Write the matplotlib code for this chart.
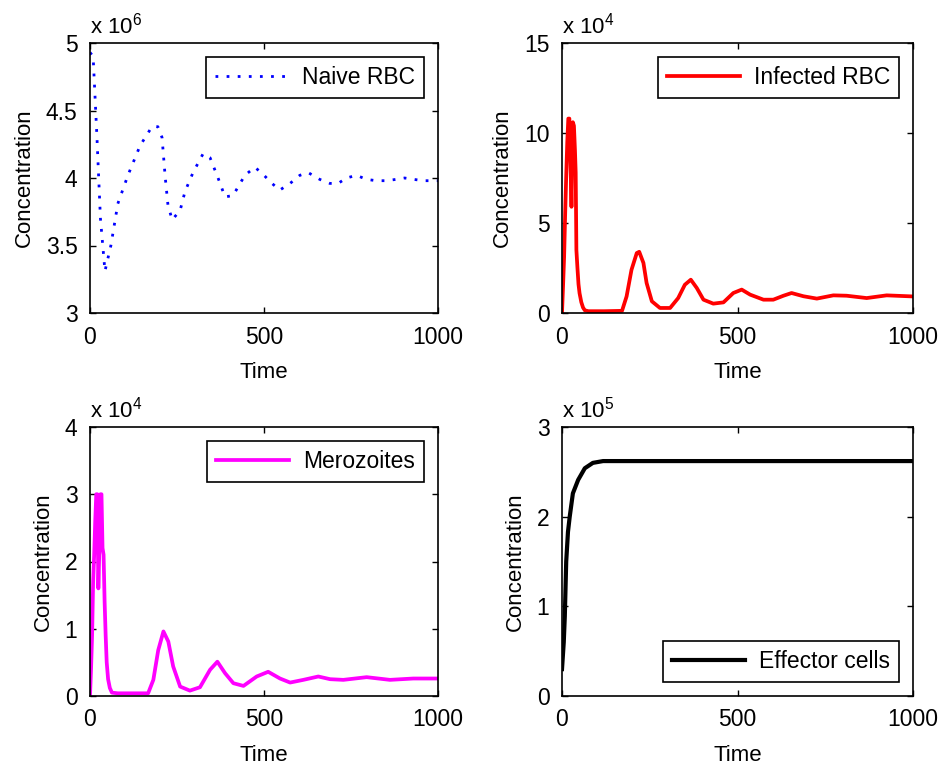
import numpy as np
import matplotlib.pyplot as plt

plt.rcParams["font.family"] = ["Liberation Sans", "DejaVu Sans"]
plt.rcParams["mathtext.default"] = "regular"
plt.rcParams["font.size"] = 16

# Naive RBC (x 10^6)
t_naive = [0, 9, 20, 30, 43, 60, 80, 109, 144, 178, 195, 207, 216, 224, 236, 259, 273,
           296, 325, 345, 368, 388, 411, 445, 474, 500, 523, 545, 575, 603, 627, 660,
           689, 713, 737, 766, 794, 823, 852, 880, 904, 930, 957, 990, 1000]
naive = [4.93, 4.9, 4.3, 3.7, 3.31, 3.5, 3.81, 4.02, 4.24, 4.38, 4.38, 4.30, 4.01, 3.80,
         3.69, 3.76, 3.90, 4.04, 4.18, 4.15, 4.00, 3.86, 3.87, 4.02, 4.08, 4.02, 3.96,
         3.91, 3.96, 4.02, 4.04, 3.99, 3.96, 3.96, 4.00, 4.02, 3.99, 3.98, 3.98, 3.99,
         4.00, 3.99, 3.98, 3.98, 3.98]

# Infected RBC (x 10^4)
t_infected = [0, 3, 6, 9, 12, 15, 18, 21, 24, 27, 29, 31, 34, 37, 39, 41, 44, 47, 50, 55,
              60, 65, 75, 120, 171, 184, 198, 213, 220, 232, 241, 256, 279, 308, 331, 350,
              367, 384, 403, 431, 460, 488, 512, 536, 574, 602, 631, 654, 688, 726, 773,
              811, 868, 925, 1000]
infected = [0, 1.5, 3.1, 5.5, 7.6, 9.5, 10.8, 10.8, 8.5, 5.9, 8.5, 10.6, 10.4, 9.0, 7.8,
            3.5, 2.5, 1.6, 1.1, 0.6, 0.3, 0.15, 0.1, 0.1, 0.12, 0.92, 2.4, 3.33, 3.4, 2.78,
            1.67, 0.65, 0.28, 0.28, 0.83, 1.57, 1.85, 1.39, 0.74, 0.52, 0.59, 1.11, 1.3,
            1.02, 0.74, 0.74, 0.96, 1.11, 0.93, 0.8, 0.98, 0.96, 0.83, 0.98, 0.92]

# Merozoites (x 10^4)
t_mero = [0, 3, 6, 9, 12, 15, 18, 21, 24, 27, 30, 33, 36, 39, 42, 45, 48, 52, 57, 63, 80,
          120, 167, 182, 196, 211, 225, 239, 259, 287, 316, 345, 366, 388, 412, 441, 479,
          512, 546, 575, 613, 656, 690, 728, 795, 862, 929, 1000]
mero = [0, 0.4, 0.9, 1.7, 2.1, 2.6, 3.0, 3.0, 1.6, 2.2, 3.0, 3.0, 2.2, 2.1, 1.4, 0.9, 0.5,
        0.25, 0.12, 0.05, 0.04, 0.04, 0.04, 0.24, 0.68, 0.96, 0.81, 0.44, 0.14, 0.08, 0.13,
        0.39, 0.51, 0.34, 0.19, 0.15, 0.29, 0.36, 0.26, 0.2, 0.24, 0.29, 0.25, 0.24, 0.28,
        0.24, 0.26, 0.26]

# Effector cells (x 10^5)
t_effector = [0, 5, 8, 12, 17, 22, 31, 46, 65, 88, 117, 200, 500, 1000]
effector = [0.3, 0.6, 0.89, 1.5, 1.83, 2.0, 2.26, 2.41, 2.54, 2.6, 2.62, 2.62, 2.62, 2.62]

panels = [
    # rect (px), t, y, style, colour, width, label, ylim, yticks, exponent, legend loc
    ([90, 313, 348, 270], t_naive, naive, (0, (1, 3)), "#0000ff", 2.0, "Naive RBC",
     (3, 5), [3, 3.5, 4, 4.5, 5], 6, "upper right"),
    ([562, 313, 351, 270], t_infected, infected, "-", "#ff0000", 2.7, "Infected RBC",
     (0, 15), [0, 5, 10, 15], 4, "upper right"),
    ([90, 696, 348, 269], t_mero, mero, "-", "#ff00ff", 2.7, "Merozoites",
     (0, 4), [0, 1, 2, 3, 4], 4, "upper right"),
    ([562, 696, 351, 269], t_effector, effector, "-", "#000000", 3.0, "Effector cells",
     (0, 3), [0, 1, 2, 3], 5, "lower right"),
]

W, H = 940, 765
fig = plt.figure(figsize=(W / 100, H / 100), dpi=100)

for rect, t, y, ls, color, lw, label, ylim, yticks, exp, loc in panels:
    x0, y0, w, h = rect
    ax = fig.add_axes([x0 / W, (H - y0) / H, w / W, h / H])
    ax.plot(t, y, linestyle=ls, color=color, lw=lw, label=label)
    ax.set_xlim(0, 1000)
    ax.set_ylim(*ylim)
    ax.set_xticks([0, 500, 1000])
    ax.set_yticks(yticks)
    ax.set_yticklabels([f"{v:g}" for v in yticks])
    ax.tick_params(direction="in", top=True, right=True, length=4, width=1,
                   labelsize=16.5, pad=9)
    for s in ax.spines.values():
        s.set_linewidth(1.2)
    ax.set_xlabel("Time", labelpad=10)
    ax.set_ylabel("Concentration", labelpad=8)
    ax.text(0, 1.015, f"x 10$^{{{exp}}}$", transform=ax.transAxes,
            ha="left", va="bottom", fontsize=16)
    leg = ax.legend(loc=loc, handlelength=3.2, handletextpad=0.6, fancybox=False,
                    framealpha=1, edgecolor="black", borderaxespad=0.6, fontsize=16.5)
    leg.get_frame().set_linewidth(1.2)

fig.savefig("out.png", dpi=100)
